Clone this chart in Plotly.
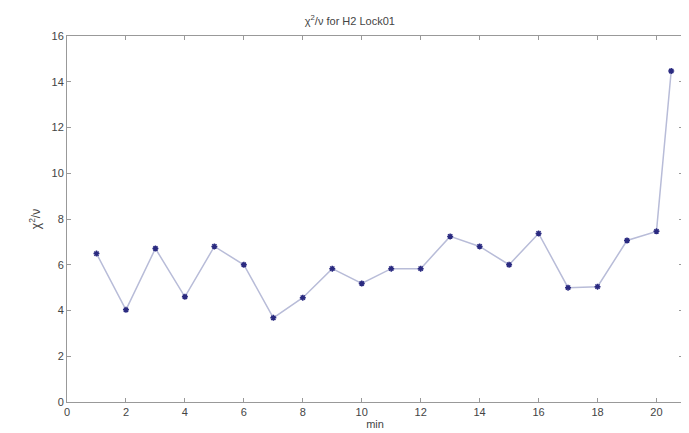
import plotly.graph_objects as go

minutes = [1, 2, 3, 4, 5, 6, 7, 8, 9, 10, 11, 12, 13, 14, 15, 16, 17, 18, 19, 20, 20.5]
chi2 = [6.49, 4.03, 6.71, 4.6, 6.8, 6.0, 3.68, 4.56, 5.83, 5.18, 5.83, 5.83, 7.24, 6.8,
        6.0, 7.37, 5.0, 5.04, 7.06, 7.46, 14.47]
xticks = [0, 2, 4, 6, 8, 10, 12, 14, 16, 18, 20]
yticks = [0, 2, 4, 6, 8, 10, 12, 14, 16]

FONT = "Liberation Sans, Arial"
fig = go.Figure()
fig.add_trace(go.Scatter(
    x=minutes, y=chi2, mode="lines+markers",
    line=dict(color="#b8bcd8", width=1.5),
    marker=dict(color="#2a2a80", size=5, symbol="asterisk-open",
                line=dict(color="#2a2a80", width=1.5)),
    showlegend=False,
))

axis_common = dict(
    showline=True, linecolor="#999999", linewidth=1, mirror="ticks",
    ticks="inside", ticklen=4, tickcolor="#999999", showgrid=False, zeroline=False,
    automargin=False,
    tickfont=dict(family=FONT, size=11, color="#444444"),
)
fig.update_xaxes(range=[0, 20.9], tickvals=xticks,
                 title=dict(text="min", standoff=1,
                            font=dict(family=FONT, size=11, color="#444444")),
                 **axis_common)
fig.update_yaxes(range=[0, 16], tickvals=yticks,
                 title=dict(text="χ<sup>2</sup>/ν", standoff=8,
                            font=dict(family=FONT, size=12, color="#444444")),
                 **axis_common)
fig.update_layout(
    width=681, height=425,
    margin=dict(l=59, r=6, t=28, b=31),
    paper_bgcolor="white", plot_bgcolor="white",
    title=dict(text="χ<sup>2</sup>/ν for H2 Lock01", x=0.502, xanchor="center",
               y=0.978, yanchor="top",
               font=dict(family=FONT, size=11, color="#444444")),
)
fig.write_html("out.html")
